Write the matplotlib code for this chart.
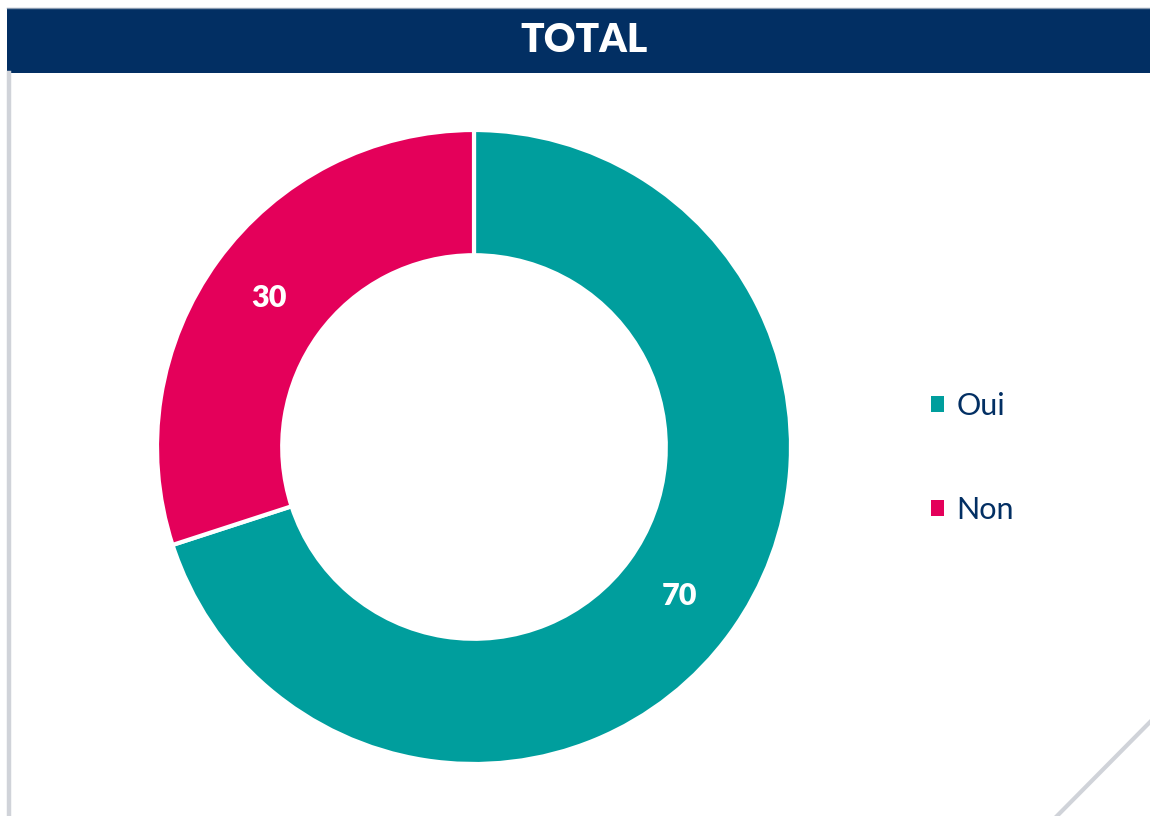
import matplotlib
matplotlib.use("Agg")
import matplotlib.pyplot as plt
from matplotlib.patches import Rectangle, Patch
from matplotlib.lines import Line2D

title = "TOTAL"
categories = ["Oui", "Non"]
values = [70, 30]
colors = ["#009e9d", "#e4005a"]
navy = "#022f63"
grey = "#d0d3d9"

W, H = 1150, 816
fig = plt.figure(figsize=(W / 100, H / 100), dpi=100)
fig.patch.set_facecolor("white")

def fx(px):
    return px / W

def fy(py):
    return 1 - py / H

# header bar
fig.patches.append(Rectangle((fx(7), fy(73)), fx(1150) - fx(7), fy(8) - fy(73),
                             transform=fig.transFigure, facecolor=navy, edgecolor="none", zorder=1))
fig.add_artist(Line2D([fx(7), fx(1150)], [fy(7.5), fy(7.5)], transform=fig.transFigure,
                      color="#8a9bb0", lw=1))
fig.text(fx(584), fy(41), title, color="white", fontsize=28, fontweight="heavy",
         family="Lato", ha="center", va="center")

# left border and diagonal
fig.add_artist(Line2D([fx(9), fx(9)], [fy(73), fy(816)], transform=fig.transFigure,
                      color=grey, lw=3.2))
fig.add_artist(Line2D([fx(1152), fx(1055)], [fy(720), fy(818)], transform=fig.transFigure,
                      color=grey, lw=3))

# donut
cx, cy, r = 474, 447, 317
ax = fig.add_axes([fx(cx - r), fy(cy + r), fx(2 * r), (2 * r) / H])
wedges, texts, autotexts = ax.pie(
    values, colors=colors, startangle=90, counterclock=False,
    radius=1, autopct=lambda p: f"{p:.0f}", pctdistance=0.80,
    wedgeprops=dict(width=0.395, edgecolor="white", linewidth=3))
for t in autotexts:
    t.set_color("white")
    t.set_fontsize(22)
    t.set_fontweight("heavy")
    t.set_family("Lato")
ax.set_xlim(-1, 1)
ax.set_ylim(-1, 1)
ax.set_aspect("equal")
ax.axis("off")

handles = [Patch(facecolor=c, edgecolor="none") for c in colors]
leg = fig.legend(handles, categories, loc="upper left",
                 bbox_to_anchor=(fx(931), fy(392)), frameon=False,
                 prop=dict(family="Lato", size=22), labelcolor=navy,
                 handlelength=0.42, handleheight=0.42, handletextpad=0.42,
                 labelspacing=2.49, borderpad=0, borderaxespad=0)

fig.savefig("out.png", dpi=100, facecolor="white")
